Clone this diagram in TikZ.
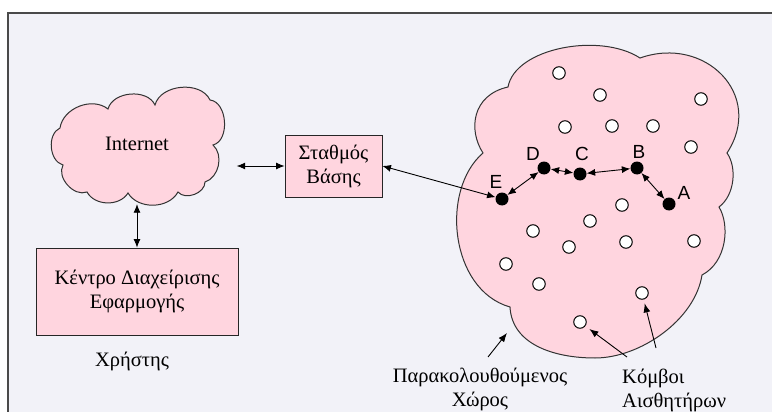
\documentclass[tikz,border=0pt]{standalone}
\usepackage{fontspec}
\setmainfont{Liberation Serif}
\newfontfamily\labelfont{Liberation Sans}
\usetikzlibrary{arrows.meta}
\definecolor{bgpaper}{HTML}{F2F2F8}
\definecolor{pinkfill}{HTML}{FFD5DF}
\definecolor{framegray}{HTML}{4A4A4A}
\begin{document}
\begin{tikzpicture}[x=1pt,y=-1pt,
  box/.style={draw=black!85, line width=0.9pt, fill=pinkfill, align=center, inner sep=0pt},
  sensor/.style={circle, draw=black, line width=1pt, fill=white, minimum size=12.5pt, inner sep=0pt},
  relay/.style={circle, fill=black, minimum size=13pt, inner sep=0pt},
  lbl/.style={font=\labelfont\fontsize{19}{22}\selectfont, inner sep=0pt},
  txt/.style={inner sep=0pt},
  dbl/.style={{Latex[length=8.5pt,width=7pt]}-{Latex[length=8.5pt,width=7pt]}, line width=0.9pt},
  ptr/.style={-{Latex[length=9pt,width=7pt]}, line width=0.9pt},
  cloudline/.style={draw=black!80, line width=1pt, fill=pinkfill},
  font=\fontsize{20.5}{24}\selectfont
]
\useasboundingbox (0,0) rectangle (772,412);
\fill[white] (0,0) rectangle (772,412);
\draw[framegray, line width=2pt, fill=bgpaper] (8,13) rectangle (790,430);

% Internet cloud outline
\path[cloudline] (108,109) to[bend left=70] (155,105) to[bend left=70] (210,100)
  to[bend left=80] (213,145) to[bend left=60] (205,182) to[bend left=70] (178,192)
  to[bend left=60] (128,193) to[bend left=60] (87,192) to[bend left=70] (63,165)
  to[bend left=70] (60,128) to[bend left=60] (108,109) -- cycle;
\node[txt, minimum width=183pt, minimum height=114pt] (inet) at (137,147) {};
\node[txt] (inettxt) at (137,144) {Internet};

% base station and application centre
\node[box, minimum width=97pt, minimum height=62pt] (stb) at (333.5,166) {Σταθμός\\Βάσης};
\node[box, minimum width=202pt, minimum height=87pt] (kc) at (137,291.5) {Κέντρο Διαχείρισης\\Εφαρμογής};
\node[txt] (user) at (132,361) {Χρήστης};

\draw[dbl, shorten >=8pt] (stb.west) -- (stb.west -| inet.east);
\draw[dbl] (inet.south) -- (kc.north);

% monitored area
\path[cloudline] (508,87) .. controls (515,48) and (600,32) .. (640,58)
  .. controls (705,35) and (765,95) .. (727,153)
  .. controls (737,167) and (735,195) .. (719,207)
  .. controls (730,225) and (727,262) .. (702,275)
  .. controls (695,320) and (640,358) .. (595,358)
  .. controls (555,358) and (512,345) .. (510,307)
  .. controls (450,290) and (440,190) .. (483,153)
  .. controls (468,130) and (472,95) .. (508,87) -- cycle;

% sensor nodes
\foreach \p [count=\i] in {(559,73),(600,95),(701,99),(565,127),(612,126),(653,126),
  (691,147),(622,205),(590,221),(533,231),(569,247),(626,242),(694,241),
  (506,264),(539,284),(642,293),(580,322)}
  \node[sensor] (s\i) at \p {};

% routing path
\node[relay] (E) at (502,199) {};
\node[relay] (D) at (544,168) {};
\node[relay] (C) at (580,174) {};
\node[relay] (B) at (637,168) {};
\node[relay] (A) at (669,204) {};
\node[lbl] (El) at (496,182) {E};
\node[lbl] (Dl) at (533,154) {D};
\node[lbl] (Cl) at (582,154) {C};
\node[lbl] (Bl) at (639,152) {B};
\node[lbl] (Al) at (684,193) {A};

\draw[dbl] (E) -- (D);
\draw[dbl] (D) -- (C);
\draw[dbl] (C) -- (B);
\draw[dbl] (B) -- (A);
\draw[dbl] (stb.east) -- (E);

% captions
\node[txt, align=center] (mon) at (480,389) {Παρακολουθούμενος\\Χώρος};
\node[txt, align=left, anchor=west] (kom) at (622,390) {Κόμβοι\\Αισθητήρων};
\coordinate (monTail) at (488,357);
\coordinate (rim) at (507,333);
\coordinate (sTail1) at (627,357);
\coordinate (sTail2) at (656,348);
\draw[ptr] (monTail) -- (rim);
\draw[ptr, shorten >=5pt] (sTail1) -- (s17);
\draw[ptr, shorten >=4pt] (sTail2) -- (s16);
\end{tikzpicture}
\end{document}
